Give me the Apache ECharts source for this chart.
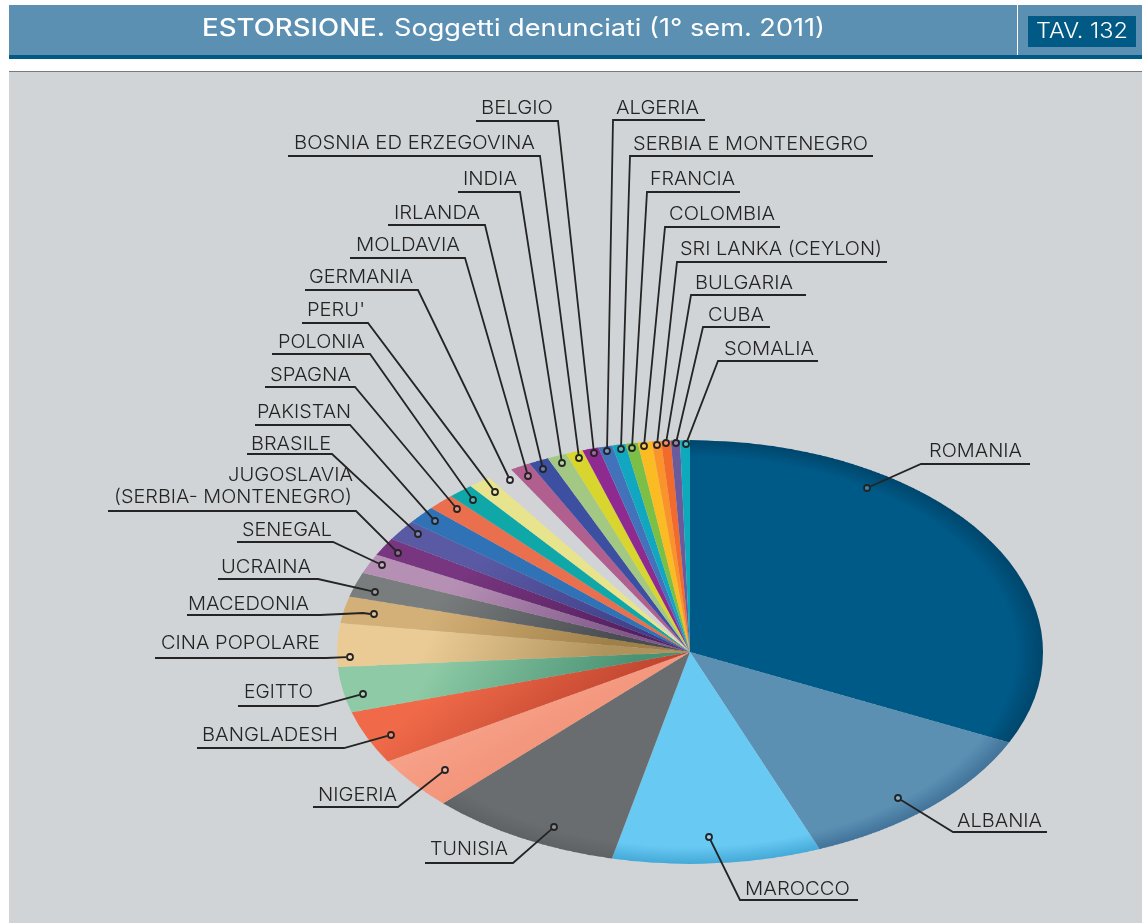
<!DOCTYPE html>
<html><head><meta charset="utf-8">
<style>
html,body{margin:0;padding:0;background:#fff;width:1142px;height:923px;overflow:hidden}
#panel{position:absolute;left:9px;top:71px;width:1133px;height:852px;background:#d1d4d7;border-top:1px solid #77797b;box-sizing:border-box}
#pie{position:absolute;left:0;top:412px;width:1142px;height:800px;transform-origin:0 0;transform:scaleY(0.6)}
#top{position:absolute;left:0;top:0;width:1142px;height:923px}
</style>
<script src="https://cdn.jsdelivr.net/npm/echarts@6/dist/echarts.min.js"></script>
</head><body>
<div id="panel"></div><div id="pie"></div><div id="top"></div>
<script>
// clockwise from 12 o'clock; share of reported persons, %
var categories=['ROMANIA','ALBANIA','MAROCCO','TUNISIA','NIGERIA','BANGLADESH','EGITTO','CINA POPOLARE','MACEDONIA','UCRAINA','SENEGAL','JUGOSLAVIA\n(SERBIA- MONTENEGRO)','BRASILE','PAKISTAN','SPAGNA','POLONIA',"PERU'",'GERMANIA','MOLDAVIA','IRLANDA','INDIA','BOSNIA ED ERZEGOVINA','BELGIO','ALGERIA','SERBIA E MONTENEGRO','FRANCIA','COLOMBIA','SRI LANKA (CEYLON)','BULGARIA','CUBA','SOMALIA'];
var values=[32.03,12.0,9.53,8.78,4.03,4.05,3.47,3.31,2.03,1.89,1.5,1.36,1.58,1.36,1.25,1.17,1.05,1.17,0.94,0.92,0.89,0.78,0.75,0.64,0.61,0.56,0.64,0.42,0.44,0.42,0.45];
var colors=['#005a87','#5b90b3','#68c9f3','#6a6d70','#f8a48c','#f06a49','#8dcaa5','#eacb96','#d3b077','#7a7d7e','#b690b4','#77367f','#5a5aa4','#2f72b5','#e96f4e','#10a7a8','#e8e38d','#d2d3d6','#b05f8f','#3c4fa0','#a3c884','#d8d62e','#8e2a90','#4272ba','#11a7c0','#7bbf46','#fbbc23','#f9932a','#f26b2c','#6c5b9c','#0fa9bc'];
// darker end of the wedge shading where the wedge has one
var shadeEnds={4:'#ec8468',5:'#b23a28',6:'#4a9274',7:'#b0925c',8:'#a08049',9:'#4a4d50',10:'#80598a',11:'#55205f',12:'#40408a'};
var rimColors={0:'#00466c',1:'#42739a',2:'#45aad8',3:'#5f6265'};
var title='ESTORSIONE.', subtitle='Soggetti denunciati (1° sem. 2011)', tableTag='TAV. 132';
// callout layout, same order as categories: text x, text centre y, underline x1, x2, y, side of elbow, dot x, dot y, text right edge
var calloutLayout=[
[929,450,921,1030,464,0,867,488,1022],[957,820,953,1047,832,0,898,798,1042],[745,888,740,858,900,0,709,837,850],[430,848,425,513,863,1,554,827,508],
[318,794,313,398,807,1,445,770,397],[202,734,197,344,748,1,391,735,338],[244,691,238,318,706,1,363,694,313],[161,642,155,326,658,1,350,657,320],
[188,603,187,363,614,1,374,614,309],[221,566,218,318,579,1,375,592,311],[242,529,237,333,542,1,382,565,332],[114,485,108,356,511,1,398,553,352],
[251,443,247,332,454,1,418,534,331],[257,411,255,350,425,1,435,521,351],[270,374,265,355,387,1,457,509,351],[278,341,272,370,354,1,473,500,365],
[307,309,302,368,323,1,495,492,365],[309,276,305,418,290,1,510,480,413],[356,244,350,465,258,1,528,476,460],[394,212,388,485,225,1,543,469,480],
[463,178,458,520,192,1,562,463,517],[294,142,288,540,156,1,579,458,535],[481,107,476,558,121,1,594,453,553],[616,107,613,705,120,0,607,451,699],
[633,143,630,873,156,0,621,449,868],[650,178,647,740,192,0,632,448,735],[669,213,665,780,227,0,644,446,775],[680,248,677,887,262,0,657,445,882],
[695,282,691,806,295,0,666,443,793],[708,314,703,770,327,0,676,443,764],[724,348,718,818,361,0,686,444,814]];
var firstLineLayout=[228,474,353], secondLineLayout=[114,496,352];

var FAMILY='Inter,"Liberation Sans",sans-serif', LABEL='300 19px '+FAMILY, INK='#242424';
var CX=690,CY=400,R=353;
var ctx=document.createElement('canvas').getContext('2d');
function fitted(text,x,x2,y,font,fill){
  ctx.font=font;
  return {type:'text',x:x,y:y,scaleX:(x2-x)/ctx.measureText(text).width,
    style:{text:text,fill:fill,font:font,verticalAlign:'middle'}};
}
function shade(i){
  var c=colors[i];
  if(shadeEnds[i]) return {type:'linear',x:0,y:0,x2:0.75,y2:1,colorStops:[{offset:0,color:c},{offset:0.35,color:c},{offset:1,color:shadeEnds[i]}]};
  if(rimColors[i]) return {type:'radial',x:CX,y:CY,r:R,global:true,colorStops:[{offset:0,color:c},{offset:0.92,color:c},{offset:1,color:rimColors[i]}]};
  return c;
}
var pieChart=echarts.init(document.getElementById('pie'),null,{renderer:'canvas'});
pieChart.setOption({animation:false,series:[{type:'pie',center:[CX,CY],radius:[0,R],startAngle:90,clockwise:true,silent:true,
  avoidLabelOverlap:false,minAngle:0,label:{show:false},labelLine:{show:false},
  data:categories.map(function(n,i){return {name:n,value:values[i],itemStyle:{color:shade(i)}};})}]});

var g=[
 {type:'rect',shape:{x:9,y:5,width:1133,height:50},style:{fill:'#5b90b3'}},
 {type:'rect',shape:{x:9,y:55,width:1133,height:4},style:{fill:'#005a85'}},
 {type:'rect',shape:{x:1017,y:5,width:1,height:50},style:{fill:'#ffffff'}},
 {type:'rect',shape:{x:1028,y:16,width:108,height:31},style:{fill:'#005a85'}},
 fitted(title,202,385,29,'500 24px '+FAMILY,'#fff'),
 fitted(subtitle,394,825,29,'400 24px '+FAMILY,'#fff'),
 fitted(tableTag,1036,1128,32,'300 21px '+FAMILY,'#fff')
];
categories.forEach(function(name,i){
  var L=calloutLayout[i],x1=L[2],x2=L[3],y=L[4],right=L[5],dx=L[6],dy=L[7];
  var sx=right?x2:x1, d=Math.hypot(dx-sx,dy-y)||1, r=3.6;
  var ex=dx+(sx-dx)/d*r, ey=dy+(y-dy)/d*r;
  var pts=right?[[x1,y],[x2,y],[ex,ey]]:[[x2,y],[x1,y],[ex,ey]];
  if(name==='MACEDONIA')pts=[[x1,y+1],[320,y+1],[363,y-1],[ex,dy]];
  g.push({type:'polyline',shape:{points:pts},style:{stroke:INK,lineWidth:1.8,fill:null,lineJoin:'miter'}});
  g.push({type:'circle',shape:{cx:dx,cy:dy,r:3},style:{stroke:INK,lineWidth:1.8,fill:'rgba(255,255,255,0.25)'}});
  var lines=name.split('\n');
  if(lines.length===2){
    g.push(fitted(lines[0],firstLineLayout[0],firstLineLayout[2],firstLineLayout[1]+1,LABEL,INK));
    g.push(fitted(lines[1],secondLineLayout[0],secondLineLayout[2],secondLineLayout[1]+1,LABEL,INK));
  } else {
    g.push(fitted(name,L[0],L[8],L[1]+1,LABEL,INK));
  }
});
var topChart=echarts.init(document.getElementById('top'));
topChart.setOption({animation:false,graphic:{elements:g}});
</script>
</body></html>
